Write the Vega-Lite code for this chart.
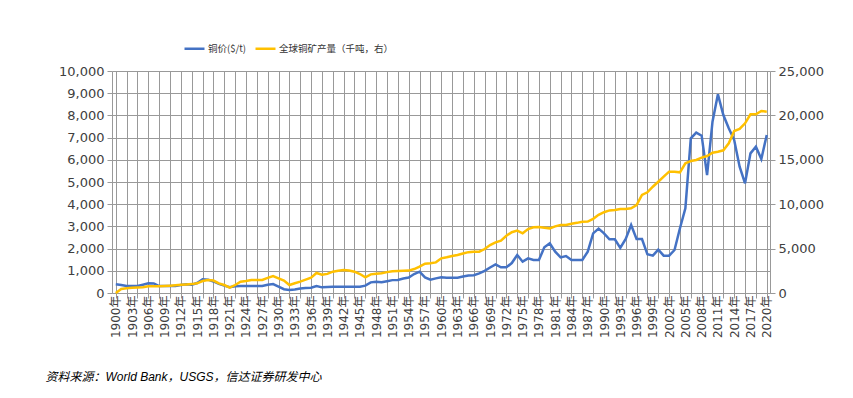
{
  "$schema": "https://vega.github.io/schema/vega-lite/v6.json",
  "width": 658,
  "height": 222,
  "autosize": {"type": "none"},
  "padding": {"left": 112, "top": 71, "right": 83, "bottom": 105},
  "background": "white",
  "config": {"view": {"stroke": null}, "font": "DejaVu Sans"},
  "data": {"values": [
    {"year":1900,"price":390,"output":0},{"year":1901,"price":360,"output":450},{"year":1902,"price":315,"output":525},{"year":1903,"price":315,"output":590},{"year":1904,"price":320,"output":620},{"year":1905,"price":375,"output":650},{"year":1906,"price":435,"output":750},{"year":1907,"price":430,"output":760},{"year":1908,"price":315,"output":750},{"year":1909,"price":315,"output":790},
    {"year":1910,"price":315,"output":830},{"year":1911,"price":320,"output":880},{"year":1912,"price":360,"output":940},{"year":1913,"price":390,"output":970},{"year":1914,"price":375,"output":1000},{"year":1915,"price":450,"output":1090},{"year":1916,"price":615,"output":1350},{"year":1917,"price":600,"output":1470},{"year":1918,"price":520,"output":1400},{"year":1919,"price":410,"output":1090},
    {"year":1920,"price":330,"output":900},{"year":1921,"price":260,"output":600},{"year":1922,"price":300,"output":900},{"year":1923,"price":320,"output":1275},{"year":1924,"price":310,"output":1350},{"year":1925,"price":315,"output":1465},{"year":1926,"price":315,"output":1470},{"year":1927,"price":315,"output":1470},{"year":1928,"price":370,"output":1700},{"year":1929,"price":400,"output":1915},
    {"year":1930,"price":285,"output":1650},{"year":1931,"price":170,"output":1400},{"year":1932,"price":135,"output":900},{"year":1933,"price":160,"output":1100},{"year":1934,"price":200,"output":1275},{"year":1935,"price":220,"output":1500},{"year":1936,"price":240,"output":1725},{"year":1937,"price":315,"output":2250},{"year":1938,"price":255,"output":2050},{"year":1939,"price":265,"output":2150},
    {"year":1940,"price":280,"output":2400},{"year":1941,"price":285,"output":2500},{"year":1942,"price":285,"output":2590},{"year":1943,"price":285,"output":2530},{"year":1944,"price":285,"output":2400},{"year":1945,"price":285,"output":2140},{"year":1946,"price":330,"output":1765},{"year":1947,"price":480,"output":2100},{"year":1948,"price":510,"output":2180},{"year":1949,"price":480,"output":2215},
    {"year":1950,"price":530,"output":2350},{"year":1951,"price":580,"output":2450},{"year":1952,"price":590,"output":2475},{"year":1953,"price":650,"output":2500},{"year":1954,"price":700,"output":2520},{"year":1955,"price":855,"output":2700},{"year":1956,"price":960,"output":2965},{"year":1957,"price":705,"output":3300},{"year":1958,"price":600,"output":3340},{"year":1959,"price":660,"output":3450},
    {"year":1960,"price":705,"output":3900},{"year":1961,"price":690,"output":4020},{"year":1962,"price":690,"output":4170},{"year":1963,"price":690,"output":4280},{"year":1964,"price":740,"output":4450},{"year":1965,"price":790,"output":4600},{"year":1966,"price":800,"output":4650},{"year":1967,"price":880,"output":4650},{"year":1968,"price":1000,"output":4950},{"year":1969,"price":1150,"output":5400},
    {"year":1970,"price":1291,"output":5700},{"year":1971,"price":1156,"output":5890},{"year":1972,"price":1156,"output":6450},{"year":1973,"price":1350,"output":6850},{"year":1974,"price":1712,"output":7020},{"year":1975,"price":1411,"output":6720},{"year":1976,"price":1561,"output":7200},{"year":1977,"price":1486,"output":7400},{"year":1978,"price":1486,"output":7420},{"year":1979,"price":2057,"output":7350},
    {"year":1980,"price":2237,"output":7280},{"year":1981,"price":1862,"output":7500},{"year":1982,"price":1606,"output":7660},{"year":1983,"price":1666,"output":7660},{"year":1984,"price":1486,"output":7800},{"year":1985,"price":1486,"output":7900},{"year":1986,"price":1486,"output":8030},{"year":1987,"price":1862,"output":8050},{"year":1988,"price":2687,"output":8350},{"year":1989,"price":2898,"output":8800},
    {"year":1990,"price":2687,"output":9100},{"year":1991,"price":2417,"output":9300},{"year":1992,"price":2417,"output":9350},{"year":1993,"price":2030,"output":9460},{"year":1994,"price":2432,"output":9460},{"year":1995,"price":3063,"output":9540},{"year":1996,"price":2432,"output":9910},{"year":1997,"price":2432,"output":11040},{"year":1998,"price":1743,"output":11340},{"year":1999,"price":1680,"output":11970},
    {"year":2000,"price":1950,"output":12530},{"year":2001,"price":1680,"output":13100},{"year":2002,"price":1680,"output":13660},{"year":2003,"price":1937,"output":13660},{"year":2004,"price":2914,"output":13590},{"year":2005,"price":3815,"output":14600},{"year":2006,"price":6968,"output":14860},{"year":2007,"price":7222,"output":14980},{"year":2008,"price":7087,"output":15240},{"year":2009,"price":5315,"output":15430},
    {"year":2010,"price":7718,"output":15800},{"year":2011,"price":8950,"output":15910},{"year":2012,"price":8018,"output":16070},{"year":2013,"price":7417,"output":16860},{"year":2014,"price":6890,"output":18240},{"year":2015,"price":5690,"output":18470},{"year":2016,"price":4940,"output":19110},{"year":2017,"price":6290,"output":20120},{"year":2018,"price":6590,"output":20120},{"year":2019,"price":6036,"output":20500},
    {"year":2020,"price":7117,"output":20420}
  ]},
  "layer": [
    {
      "mark": {"type": "line", "strokeWidth": 2.5},
      "encoding": {
        "x": {
          "field": "year", "type": "quantitative",
          "scale": {"domain": [1899.3, 2020.6], "nice": false, "zero": false},
          "axis": {
            "orient": "bottom",
            "values": [1900,1902,1904,1906,1908,1910,1912,1914,1916,1918,1920,1922,1924,1926,1928,1930,1932,1934,1936,1938,1940,1942,1944,1946,1948,1950,1952,1954,1956,1958,1960,1962,1964,1966,1968,1970,1972,1974,1976,1978,1980,1982,1984,1986,1988,1990,1992,1994,1996,1998,2000,2002,2004,2006,2008,2010,2012,2014,2016,2018,2020],
            "labels": false,
            "grid": true,
            "gridColor": "#999999",
            "ticks": true,
            "tickColor": "#999999",
            "tickSize": 5,
            "domain": true,
            "domainColor": "#999999",
            "title": null
          }
        },
        "y": {
          "field": "price", "type": "quantitative",
          "scale": {"domain": [0, 10000], "nice": false},
          "axis": {
            "orient": "left",
            "values": [0,1000,2000,3000,4000,5000,6000,7000,8000,9000,10000],
            "format": ",d",
            "title": null,
            "labelFontSize": 13,
            "labelColor": "#404040",
            "labelPadding": 3,
            "grid": true,
            "gridColor": "#999999",
            "tickColor": "#999999",
            "tickSize": 5,
            "domainColor": "#999999"
          }
        },
        "color": {
          "datum": "铜价($/t)", "type": "nominal",
          "scale": {"domain": ["铜价($/t)", "全球铜矿产量（千吨，右）"], "range": ["#4472C4", "#FFC000"]},
          "legend": {
            "orient": "none", "legendX": 71, "legendY": -34,
            "direction": "horizontal", "title": null,
            "symbolType": "stroke", "symbolStrokeWidth": 2.5, "symbolSize": 400,
            "labelFontSize": 9.5, "labelFont": "Noto Sans CJK SC", "labelColor": "#333333",
            "columnPadding": 3, "labelOffset": 2
          }
        }
      }
    },
    {
      "mark": {"type": "line", "strokeWidth": 2.5},
      "encoding": {
        "x": {
          "field": "year", "type": "quantitative",
          "axis": {
            "orient": "bottom",
            "values": [1900,1903,1906,1909,1912,1915,1918,1921,1924,1927,1930,1933,1936,1939,1942,1945,1948,1951,1954,1957,1960,1963,1966,1969,1972,1975,1978,1981,1984,1987,1990,1993,1996,1999,2002,2005,2008,2011,2014,2017,2020],
            "labelExpr": "datum.value + '年'",
            "labelAngle": -90,
            "labelFontSize": 12,
            "labelFont": "DejaVu Sans, Noto Sans CJK SC",
            "labelColor": "#404040",
            "labelOverlap": false,
            "labelPadding": 2,
            "grid": false,
            "ticks": false,
            "domain": false,
            "title": "资料来源：World Bank，USGS，信达证券研发中心",
            "titleFont": "Liberation Sans, Noto Sans CJK SC",
            "titleFontStyle": "italic",
            "titleFontWeight": "normal",
            "titleFontSize": 12,
            "titleColor": "#000000",
            "titleAnchor": "start",
            "titleAlign": "left",
            "titleBaseline": "middle",
            "titleX": -67,
            "titleY": 83
          }
        },
        "y": {
          "field": "output", "type": "quantitative",
          "scale": {"domain": [0, 25000], "nice": false},
          "axis": {
            "orient": "right",
            "values": [0,5000,10000,15000,20000,25000],
            "format": ",d",
            "title": null,
            "labelFontSize": 13,
            "labelColor": "#404040",
            "labelPadding": 3,
            "grid": false,
            "tickColor": "#999999",
            "tickSize": 5,
            "domainColor": "#999999"
          }
        },
        "color": {"datum": "全球铜矿产量（千吨，右）", "type": "nominal"}
      }
    }
  ],
  "resolve": {"scale": {"y": "independent"}, "axis": {"x": "independent"}}
}
